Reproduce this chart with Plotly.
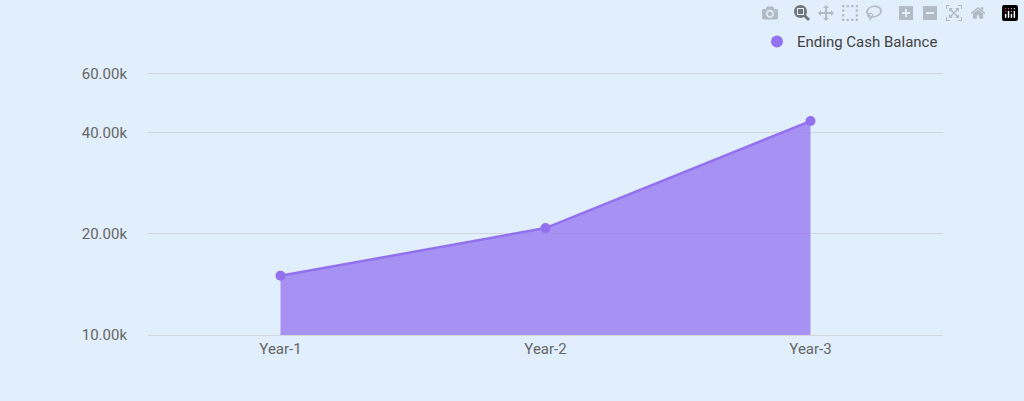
import plotly.graph_objects as go
import math

years = ["Year-1", "Year-2", "Year-3"]
cash = [15000, 20800, 43300]
baseline = [10000, 10000, 10000]
tick_vals = [10000, 20000, 40000, 60000]
tick_text = ["10.00k", "20.00k", "40.00k", "60.00k"]

fig = go.Figure()
# invisible floor so the area stops at the bottom of the log axis
fig.add_trace(go.Scatter(x=years, y=baseline, mode="lines", line=dict(width=0),
                         showlegend=False, hoverinfo="skip"))
fig.add_trace(go.Scatter(
    x=years, y=cash, name="Ending Cash Balance", mode="lines+markers",
    fill="tonexty", fillcolor="rgba(150,120,242,0.78)",
    line=dict(color="#9370EE", width=2.5), marker=dict(size=10, color="#9370EE"),
    showlegend=False,
))
# legend entry: dot only
fig.add_trace(go.Scatter(x=[None], y=[None], name="Ending Cash Balance", mode="markers",
                         marker=dict(size=16, color="#9370EE")))

fig.update_layout(
    width=1024, height=401,
    paper_bgcolor="#E1EEFB", plot_bgcolor="#E1EEFB",
    margin=dict(l=148, r=81, t=72, b=66),
    font=dict(family="Roboto", size=15, color="#666666"),
    legend=dict(x=1.0, xanchor="right", y=1.115, yanchor="middle",
                font=dict(size=15, color="#444444"), itemsizing="constant"),
    xaxis=dict(range=[-0.5, 2.5], showgrid=False, showline=True,
               linecolor="#D4D4DC", ticks=""),
    yaxis=dict(type="log", range=[math.log10(10000), math.log10(60600)],
               tickvals=tick_vals, ticktext=tick_text, gridcolor="#D4D4DC",
               zeroline=False, ticklabelstandoff=20),
)

fig.write_html("out.html", post_script="document.body.style.margin='0';"
               "document.body.style.background='#E1EEFB';")
